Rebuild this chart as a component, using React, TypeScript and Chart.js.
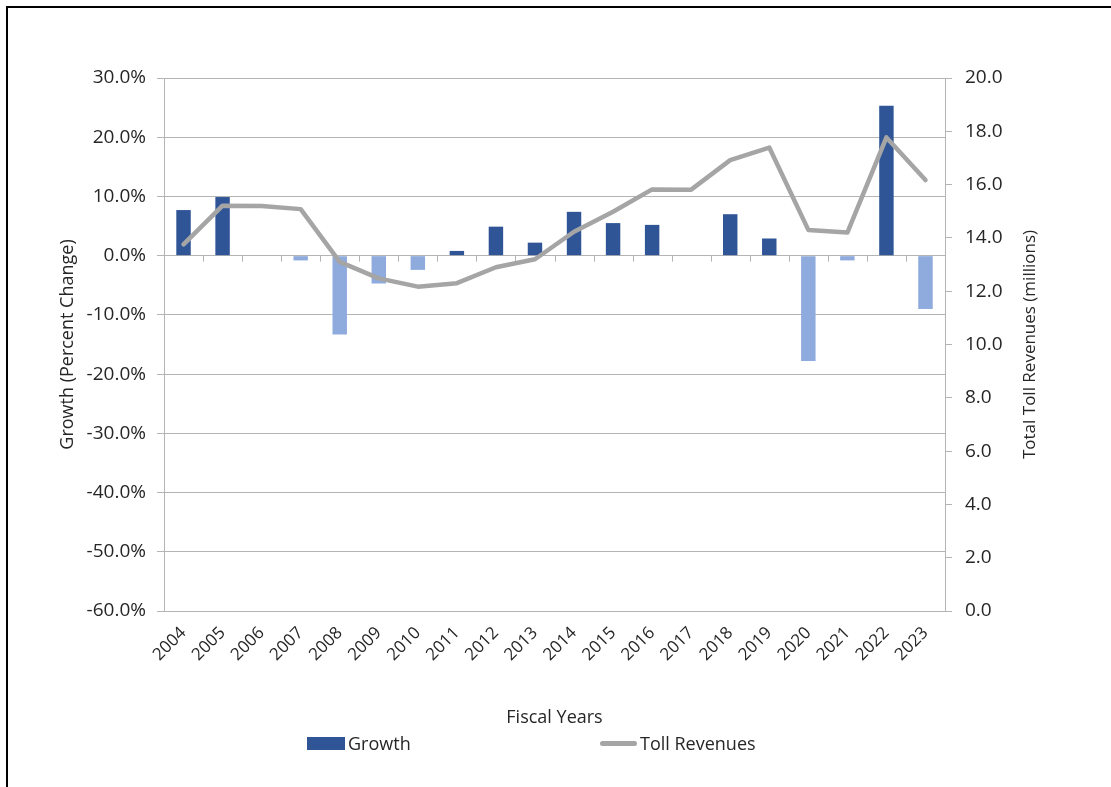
import React, { useEffect, useRef } from 'react';
import { Chart, registerables } from 'chart.js';

Chart.register(...registerables);

const fiscalYears = ['2004', '2005', '2006', '2007', '2008', '2009', '2010', '2011', '2012', '2013', '2014', '2015', '2016', '2017', '2018', '2019', '2020', '2021', '2022', '2023'];
const growthPct = [7.7, 9.9, 0, -0.8, -13.3, -4.7, -2.4, 0.8, 4.9, 2.2, 7.4, 5.5, 5.2, 0, 7.0, 2.9, -17.8, -0.8, 25.3, -9.0];
const tollRevenues = [13.76, 15.21, 15.2, 15.08, 13.1, 12.48, 12.17, 12.3, 12.9, 13.2, 14.23, 14.98, 15.82, 15.81, 16.92, 17.39, 14.3, 14.2, 17.77, 16.17];
const rightAxisTitle = 'Total Toll Revenues (millions)';

const DARK_BLUE = '#2F5597';
const LIGHT_BLUE = '#8FAADC';
const LINE_GRAY = '#A5A5A5';
const GRID_GRAY = '#B4B4B4';
const TEXT = '#262626';
const FONT = "'Open Sans', sans-serif";

const zeroTicksPlugin = {
  id: 'zeroTicks',
  beforeDatasetsDraw(chart: any) {
    const x = chart.scales.x;
    const y = chart.scales.y;
    const y0 = y.getPixelForValue(0);
    const ctx = chart.ctx;
    ctx.save();
    ctx.strokeStyle = GRID_GRAY;
    ctx.lineWidth = 1;
    const n = fiscalYears.length;
    for (let i = 0; i <= n; i++) {
      let px: number;
      if (i < n) {
        const c = x.getPixelForValue(i);
        const half = (i + 1 < n ? x.getPixelForValue(i + 1) - c : c - x.getPixelForValue(i - 1)) / 2;
        px = c - half;
      } else {
        const c = x.getPixelForValue(n - 1);
        px = c + (c - x.getPixelForValue(n - 2)) / 2;
      }
      const xx = Math.round(px) + 0.5;
      ctx.beginPath();
      ctx.moveTo(xx, y0);
      ctx.lineTo(xx, y0 + 6);
      ctx.stroke();
    }
    ctx.restore();
  },
};

const rightTitlePlugin = {
  id: 'rightTitle',
  afterDraw(chart: any) {
    const s = chart.scales.y1;
    const ctx = chart.ctx;
    const cx = s.right - 10;
    const cy = (chart.chartArea.top + chart.chartArea.bottom) / 2;
    ctx.save();
    ctx.translate(cx, cy);
    ctx.rotate(-Math.PI / 2);
    ctx.font = `17px ${FONT}`;
    ctx.fillStyle = TEXT;
    ctx.textAlign = 'center';
    ctx.textBaseline = 'middle';
    ctx.fillText(rightAxisTitle, 0, 0);
    ctx.restore();
  },
};

export default function App() {
  const canvasRef = useRef<HTMLCanvasElement | null>(null);

  useEffect(() => {
    const canvas = canvasRef.current;
    if (!canvas) return;
    const chart = new Chart(canvas, {
      type: 'bar',
      data: {
        labels: fiscalYears,
        datasets: [
          {
            type: 'line',
            label: 'Toll Revenues',
            data: tollRevenues,
            yAxisID: 'y1',
            borderColor: LINE_GRAY,
            backgroundColor: LINE_GRAY,
            borderWidth: 4.5,
            pointRadius: 0,
            tension: 0,
            borderJoinStyle: 'round',
            borderCapStyle: 'round',
            order: 0,
          } as any,
          {
            type: 'bar',
            label: 'Growth',
            data: growthPct,
            yAxisID: 'y',
            backgroundColor: growthPct.map((v) => (v >= 0 ? DARK_BLUE : LIGHT_BLUE)),
            borderWidth: 0,
            categoryPercentage: 1,
            barPercentage: 0.37,
            order: 1,
          } as any,
        ],
      },
      options: {
        animation: false,
        responsive: false,
        maintainAspectRatio: false,
        layout: { padding: { left: 57, right: 71, top: 78, bottom: 58 } },
        plugins: {
          legend: { display: false },
          tooltip: { enabled: false },
          title: { display: false },
        },
        scales: {
          x: {
            grid: { display: false, drawTicks: false },
            border: { display: false },
            ticks: {
              color: TEXT,
              font: { family: FONT, size: 17 },
              maxRotation: 45,
              minRotation: 45,
              padding: 12,
              autoSkip: false,
            },
            title: {
              display: true,
              text: 'Fiscal Years',
              color: TEXT,
              font: { family: FONT, size: 18 },
              padding: { top: 0, bottom: 0 },
            },
            afterFit: (scale: any) => {
              scale.height = 118;
            },
          },
          y: {
            position: 'left',
            min: -60,
            max: 30,
            ticks: {
              stepSize: 10,
              color: TEXT,
              font: { family: FONT, size: 19 },
              padding: 11,
              callback: (v: any) => Number(v).toFixed(1) + '%',
            },
            grid: { color: GRID_GRAY, lineWidth: 1, drawTicks: true, tickLength: 7, tickColor: GRID_GRAY },
            border: { display: true, color: GRID_GRAY, width: 1 },
            title: {
              display: true,
              text: 'Growth (Percent Change)',
              color: TEXT,
              font: { family: FONT, size: 18 },
              padding: { top: 0, bottom: 0 },
            },
            afterFit: (scale: any) => {
              scale.width = 107;
            },
          },
          y1: {
            position: 'right',
            min: 0,
            max: 20,
            ticks: {
              stepSize: 2,
              color: TEXT,
              font: { family: FONT, size: 19 },
              padding: 13,
              callback: (v: any) => Number(v).toFixed(1),
            },
            grid: { drawOnChartArea: false, color: GRID_GRAY, drawTicks: true, tickLength: 7, tickColor: GRID_GRAY },
            border: { display: true, color: GRID_GRAY, width: 1 },
            title: { display: false },
            afterFit: (scale: any) => {
              scale.width = 95;
            },
          },
        },
      },
      plugins: [zeroTicksPlugin, rightTitlePlugin],
    });
    return () => chart.destroy();
  }, []);

  return (
    <div style={{ position: 'fixed', left: 0, top: 0, width: 1111, height: 787, background: '#fff', overflow: 'hidden', fontFamily: FONT }}>
      <div style={{ position: 'absolute', left: 6, top: 6, width: 1200, height: 900, borderTop: '2px solid #000', borderLeft: '2px solid #000', boxSizing: 'border-box' }} />
      <canvas ref={canvasRef} width={1111} height={787} style={{ position: 'absolute', left: 0, top: 0, width: 1111, height: 787 }} />
      <div style={{ position: 'absolute', left: 307, top: 731, display: 'flex', alignItems: 'center', fontSize: 18, color: TEXT, height: 24 }}>
        <span style={{ display: 'inline-block', width: 38, height: 13, background: DARK_BLUE, marginRight: 3 }} />
        <span>Growth</span>
      </div>
      <div style={{ position: 'absolute', left: 600, top: 731, display: 'flex', alignItems: 'center', fontSize: 18, color: TEXT, height: 24 }}>
        <span style={{ display: 'inline-block', width: 37, height: 5, borderRadius: 3, background: LINE_GRAY, marginRight: 3 }} />
        <span>Toll Revenues</span>
      </div>
    </div>
  );
}
